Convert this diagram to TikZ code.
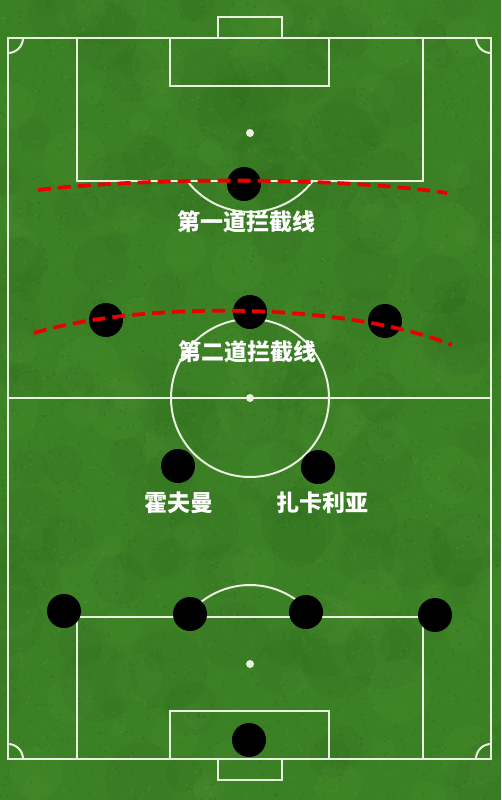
\documentclass[tikz,border=0pt]{standalone}
\usepackage{fontspec}
\newfontfamily\cjk{Noto Sans CJK SC}
\begin{document}
\begin{tikzpicture}[x=1pt,y=-1pt,
  pitchline/.style={draw=chalk, line width=2pt},
  player/.style={circle, fill=black, minimum size=34pt, inner sep=0pt},
  caption/.style={text=white, font=\cjk\bfseries\fontsize{23}{23}\selectfont, inner sep=0pt},
  redline/.style={draw=red!92!black, line width=3.8pt, dash pattern=on 13pt off 7pt}]
\definecolor{grass}{RGB}{60,128,38}
\definecolor{grassdark}{RGB}{38,98,26}
\definecolor{grasslight}{RGB}{96,162,60}
\definecolor{chalk}{RGB}{232,240,222}
% background
\fill[grass] (0,0) rectangle (501,800);
\useasboundingbox (0,0) rectangle (501,800);
\pgfmathsetseed{11}
\begin{scope}
\clip (0,0) rectangle (501,800);
\foreach \i in {1,...,140}{
  \pgfmathsetmacro{\xx}{rnd*501}
  \pgfmathsetmacro{\yy}{rnd*800}
  \pgfmathsetmacro{\rr}{10+rnd*30}
  \fill[grassdark, opacity=0.10] (\xx,\yy) circle[radius=\rr];
}
\foreach \i in {1,...,100}{
  \pgfmathsetmacro{\xx}{rnd*501}
  \pgfmathsetmacro{\yy}{rnd*800}
  \pgfmathsetmacro{\rr}{8+rnd*25}
  \fill[grasslight, opacity=0.09] (\xx,\yy) circle[radius=\rr];
}
\foreach \i in {1,...,2200}{
  \pgfmathsetmacro{\xx}{rnd*501}
  \pgfmathsetmacro{\yy}{rnd*800}
  \fill[grassdark, opacity=0.35] (\xx,\yy) circle[radius=1.1];
}
\foreach \i in {1,...,1800}{
  \pgfmathsetmacro{\xx}{rnd*501}
  \pgfmathsetmacro{\yy}{rnd*800}
  \fill[grasslight, opacity=0.35] (\xx,\yy) circle[radius=0.9];
}
\end{scope}
% pitch markings
\draw[pitchline] (8,38) rectangle (491,759);
\draw[pitchline] (8,398) -- (491,398);
\draw[pitchline] (250,398) circle[radius=79];
\fill[chalk] (250,398) circle[radius=4];
% top half
\draw[pitchline] (218,38) -- (218,17) -- (282,17) -- (282,38);
\draw[pitchline] (170,38) rectangle (329,86);
\draw[pitchline] (77,38) rectangle (423,181);
\fill[chalk] (250,133) circle[radius=4];
\draw[pitchline] (250,133) ++(37.4:79) arc[start angle=37.4, end angle=142.6, radius=79];
% bottom half
\draw[pitchline] (218,759) -- (218,780) -- (282,780) -- (282,759);
\draw[pitchline] (170,711) rectangle (329,759);
\draw[pitchline] (77,617) rectangle (423,759);
\fill[chalk] (250,664) circle[radius=4];
\draw[pitchline] (250,664) ++(-36.5:79) arc[start angle=-36.5, end angle=-143.5, radius=79];
% corners
\draw[pitchline] (8,38) ++(0:15) arc[start angle=0, end angle=90, radius=15];
\draw[pitchline] (491,38) ++(90:15) arc[start angle=90, end angle=180, radius=15];
\draw[pitchline] (8,759) ++(-90:15) arc[start angle=-90, end angle=0, radius=15];
\draw[pitchline] (491,759) ++(180:15) arc[start angle=180, end angle=270, radius=15];
% players
\node[player] (fw) at (244,184) {};
\node[player] (ml) at (106,320) {};
\node[player] (mc) at (250,312) {};
\node[player] (mr) at (385,321) {};
\node[player] (dml) at (178,466) {};
\node[player] (dmr) at (318,467) {};
\node[player] (lb) at (64,611) {};
\node[player] (lcb) at (190,614) {};
\node[player] (rcb) at (306,612) {};
\node[player] (rb) at (435,615) {};
\node[player] (gk) at (249,740) {};
% interception lines
\coordinate (a1) at (38,190);
\coordinate (a2) at (447,193);
\coordinate (b1) at (34,333);
\coordinate (b2) at (452,345);
\draw[redline] (a1) .. controls (150,177) and (340,177) .. (a2);
\draw[redline] (b1) .. controls (140,301) and (345,302) .. (b2);
% labels
\node[caption] (t1) at (246,222) {第一道拦截线};
\node[caption] (t2) at (247,352) {第二道拦截线};
\node[caption] (n1) at (179,503) {霍夫曼};
\node[caption] (n2) at (322,503) {扎卡利亚};
\end{tikzpicture}
\end{document}
